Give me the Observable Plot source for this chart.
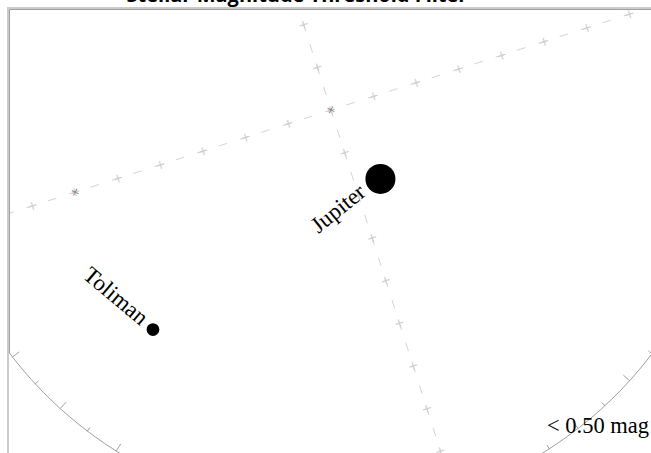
<!DOCTYPE html>
<html><head><meta charset="utf-8">
<script src="https://cdn.jsdelivr.net/npm/d3@7"></script>
<script src="https://cdn.jsdelivr.net/npm/@observablehq/plot@0.6"></script>
<style>
html,body{margin:0;padding:0;background:#fff;}
body{width:651px;height:453px;position:relative;overflow:hidden;}
#title{position:absolute;left:0;width:594px;top:-19.5px;text-align:center;font:bold 20px "Open Sans",sans-serif;color:#000;white-space:nowrap;}
#frame{position:absolute;left:7px;top:7px;width:700px;height:500px;border-left:2px solid #ccc;border-top:2px solid #ccc;}
#wrap{position:absolute;left:9px;top:9px;width:642px;height:444px;overflow:hidden;}
#legend{position:absolute;right:2px;top:413px;font:22.5px "Liberation Serif",serif;color:#000;white-space:nowrap;}
</style></head>
<body>
<div id="title">Stellar Magnitude Threshold Filter</div>
<div id="frame"></div>
<div id="wrap"></div>
<div id="legend"></div>
<script>
// ---- data ----
const starNames = ["Jupiter", "Toliman"];
const starLon = [6.0, -58.8];
const starLat = [-18.0, -29.2];
const starMag = [-2.5, -0.27];
const magLimit = 0.5;
const gratStep = 10;       // degrees between graticule crosses
const horizonStep = 5;     // degrees between horizon ticks
const markedLon = [0, -60]; // darker crosses on the equator

// ---- derived tables ----
const stars = starNames.map((name, i) => ({name, lon: starLon[i], lat: starLat[i], mag: starMag[i]}));
const crossVals = d3.range(-80, 81, gratStep).filter(v => v !== 0);
const crosses = [
  ...crossVals.map(v => ({lon: v, lat: 0})),
  ...crossVals.map(v => ({lon: 0, lat: v})),
  {lon: 0, lat: 0}
];
const marked = markedLon.map(v => ({lon: v, lat: 0}));
const gratLines = [
  {type: "LineString", coordinates: [[-85, 0], [0, 0], [85, 0]]},
  {type: "LineString", coordinates: [[0, -85], [0, 0], [0, 85]]}
];
const rad = Math.PI / 180;
function dest(c, t) {
  const sc = Math.sin(c * rad), cc = Math.cos(c * rad);
  return [Math.atan2(sc * Math.sin(t * rad), cc) / rad, Math.asin(sc * Math.cos(t * rad)) / rad];
}
const horizonTicks = d3.range(0, 360, horizonStep).map(b => ({
  type: "LineString",
  coordinates: [dest(b % 10 === 0 ? 88.2 : 89.1, b), dest(89.98, b)]
}));

const W = 642, H = 444;
const SCALE = 256.6;
const period = 5 * SCALE * rad;
const GAMMA = 17.8;

const chart = Plot.plot({
  width: W, height: H, margin: 0,
  projection: () => d3.geoAzimuthalEquidistant()
    .rotate([0, 0, GAMMA]).scale(SCALE).translate([321.5, 100.5])
    .clipAngle(90).precision(0.1),
  r: {type: "linear", domain: [magLimit, -2.5], range: [3.4, 15]},
  marks: [
    Plot.geo(gratLines, {stroke: "#d4d4d4", strokeWidth: 1, strokeDasharray: `8 ${period - 8}`, strokeDashoffset: 4}),
    Plot.text(crosses, {x: "lon", y: "lat", text: () => "+", rotate: -GAMMA, fill: "#cfcfcf", fontSize: 13, fontFamily: "DejaVu Sans"}),
    Plot.text(marked, {x: "lon", y: "lat", text: () => "+", rotate: 45 - GAMMA, fill: "#8a8a8a", fontSize: 12, fontFamily: "DejaVu Sans"}),
    Plot.sphere({stroke: "#a0a0a0", strokeWidth: 1}),
    Plot.geo(horizonTicks, {stroke: "#a0a0a0", strokeWidth: 1}),
    Plot.dot(stars, {x: "lon", y: "lat", r: "mag", fill: "black", stroke: "none"}),
    Plot.text(stars.filter(d => d.name === "Jupiter"), {x: "lon", y: "lat", text: "name", textAnchor: "end", rotate: -39, dx: -18, dy: 10, fontSize: 23, fontFamily: "Liberation Serif", fill: "black"}),
    Plot.text(stars.filter(d => d.name === "Toliman"), {x: "lon", y: "lat", text: "name", textAnchor: "end", rotate: 40, dx: -8, dy: -9, fontSize: 23, fontFamily: "Liberation Serif", fill: "black"})
  ]
});
document.getElementById("wrap").appendChild(chart);
document.getElementById("legend").textContent = `< ${magLimit.toFixed(2)} mag`;
</script>
</body></html>
